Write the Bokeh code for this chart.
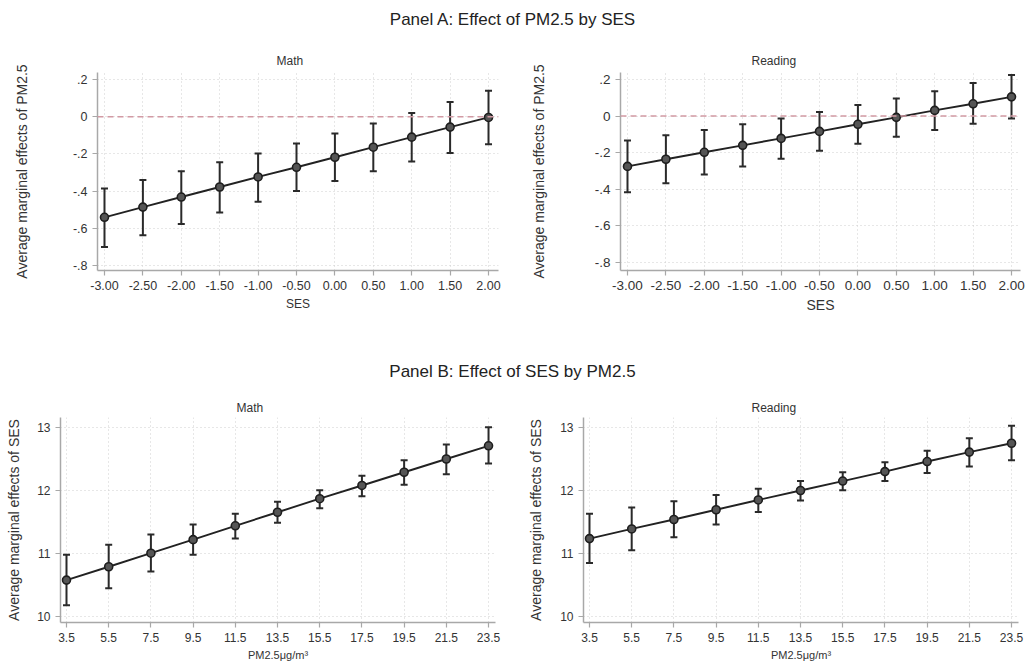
from bokeh.plotting import figure
from bokeh.models import Range1d, FixedTicker, Span, Div, ColumnDataSource
from bokeh.layouts import row, column
from bokeh.embed import file_html
from bokeh.resources import INLINE

# ---------------- data ----------------
ses = [-3.0, -2.5, -2.0, -1.5, -1.0, -0.5, 0.0, 0.5, 1.0, 1.5, 2.0]
ses_tick_labels = ["-3.00", "-2.50", "-2.00", "-1.50", "-1.00", "-0.50", "0.00", "0.50", "1.00", "1.50", "2.00"]
a_yticks = [0.2, 0.0, -0.2, -0.4, -0.6, -0.8]
a_ytick_labels = [".2", "0", "-.2", "-.4", "-.6", "-.8"]

math_a = [-0.541, -0.486, -0.432, -0.378, -0.324, -0.272, -0.218, -0.164, -0.110, -0.056, -0.004]
math_a_lo = [-0.701, -0.638, -0.577, -0.515, -0.458, -0.400, -0.346, -0.294, -0.241, -0.195, -0.148]
math_a_hi = [-0.386, -0.341, -0.294, -0.245, -0.198, -0.144, -0.090, -0.036, 0.020, 0.079, 0.139]

read_a = [-0.275, -0.236, -0.198, -0.160, -0.122, -0.084, -0.045, -0.007, 0.031, 0.067, 0.105]
read_a_lo = [-0.416, -0.367, -0.320, -0.276, -0.233, -0.189, -0.151, -0.113, -0.076, -0.042, -0.013]
read_a_hi = [-0.133, -0.105, -0.076, -0.045, -0.013, 0.022, 0.060, 0.096, 0.136, 0.180, 0.224]

pm = [3.5, 5.5, 7.5, 9.5, 11.5, 13.5, 15.5, 17.5, 19.5, 21.5, 23.5]
pm_tick_labels = ["3.5", "5.5", "7.5", "9.5", "11.5", "13.5", "15.5", "17.5", "19.5", "21.5", "23.5"]
b_yticks = [10, 11, 12, 13]
b_ytick_labels = ["10", "11", "12", "13"]

math_b = [10.578, 10.79, 11.005, 11.22, 11.44, 11.655, 11.87, 12.08, 12.29, 12.50, 12.71]
math_b_lo = [10.18, 10.45, 10.715, 10.98, 11.24, 11.49, 11.72, 11.91, 12.09, 12.26, 12.43]
math_b_hi = [10.98, 11.14, 11.30, 11.46, 11.63, 11.82, 12.005, 12.235, 12.48, 12.73, 13.005]

read_b = [11.237, 11.39, 11.54, 11.695, 11.85, 12.0, 12.15, 12.30, 12.46, 12.61, 12.75]
read_b_lo = [10.85, 11.05, 11.26, 11.46, 11.66, 11.84, 12.005, 12.15, 12.28, 12.38, 12.48]
read_b_hi = [11.63, 11.73, 11.83, 11.93, 12.03, 12.15, 12.29, 12.45, 12.63, 12.83, 13.03]

FONT = "Liberation Sans"


def make_panel(title, xs, ys, lo, hi, xticks, xlabels, yticks, ylabels,
               xr, yr, width, height, bl, br, bt, bb, xlab, ylab,
               title_offset, tick_fs, xlab_fs, ylab_fs, ylab_standoff,
               title_standoff, zero_line=False):
    p = figure(width=width, height=height, output_backend="svg",
               toolbar_location=None, x_range=Range1d(*xr), y_range=Range1d(*yr),
               min_border_left=bl, min_border_right=br,
               min_border_top=bt, min_border_bottom=bb)
    p.outline_line_color = None
    p.background_fill_color = "white"
    p.border_fill_color = "white"

    p.title.text = title
    p.title.align = "left"
    p.title.offset = title_offset
    p.title.standoff = title_standoff
    p.title.text_font = FONT
    p.title.text_font_size = "12px"
    p.title.text_font_style = "normal"
    p.title.text_color = "#333333"

    for ax in (p.xaxis[0], p.yaxis[0]):
        ax.axis_line_color = "#a8a8a8"
        ax.axis_line_width = 1.5
        ax.major_tick_line_color = "#a8a8a8"
        ax.major_tick_line_width = 1.2
        ax.major_tick_out = 5
        ax.major_tick_in = 0
        ax.minor_tick_line_color = None
        ax.major_label_text_font = FONT
        ax.major_label_text_font_size = tick_fs
        ax.major_label_text_color = "#333333"
        ax.axis_label_text_font = FONT
        ax.axis_label_text_font_style = "normal"
        ax.axis_label_text_color = "#333333"
        ax.major_label_standoff = 5

    p.xaxis.ticker = FixedTicker(ticks=xticks)
    p.xaxis.major_label_overrides = {x: s for x, s in zip(xticks, xlabels)}
    p.xaxis.axis_label = xlab
    p.xaxis.axis_label_text_font_size = xlab_fs
    p.xaxis.axis_label_standoff = 4

    p.yaxis.ticker = FixedTicker(ticks=yticks)
    p.yaxis.major_label_overrides = {y: s for y, s in zip(yticks, ylabels)}
    p.yaxis.axis_label = ylab
    p.yaxis.axis_label_text_font_size = ylab_fs
    p.yaxis.axis_label_standoff = ylab_standoff
    p.yaxis.major_label_orientation = "horizontal"

    for g in (p.xgrid[0], p.ygrid[0]):
        g.grid_line_color = "#cfcfcf"
        g.grid_line_dash = "1 3"
        g.grid_line_width = 1

    if zero_line:
        p.add_layout(Span(location=0, dimension="width", line_color="#d29aa4",
                          line_dash="6 4", line_width=1.5))

    src = ColumnDataSource(dict(x=xs, y=ys, lo=lo, hi=hi))
    p.segment(x0="x", y0="lo", x1="x", y1="hi", source=src,
              line_color="#2a2a2a", line_width=2)
    p.scatter(x="x", y="lo", source=src, marker="dash", size=7,
              line_color="#2a2a2a", line_width=2)
    p.scatter(x="x", y="hi", source=src, marker="dash", size=7,
              line_color="#2a2a2a", line_width=2)
    p.line(x="x", y="y", source=src, line_color="#222222", line_width=1.9)
    p.scatter(x="x", y="y", source=src, marker="circle", size=8,
              fill_color="#555555", line_color="#1e1e1e", line_width=1.6)
    return p


pa1 = make_panel("Math", ses, math_a, math_a_lo, math_a_hi, ses, ses_tick_labels,
                 a_yticks, a_ytick_labels, (-3.091, 2.130), (-0.827, 0.2376),
                 520, 312, 97, 22, 32, 82, "SES", "Average marginal effects of PM2.5",
                 179, "12.5px", "12px", "14px", 40, 10, zero_line=True)
pa2 = make_panel("Reading", ses, read_a, read_a_lo, read_a_hi, ses, ses_tick_labels,
                 a_yticks, a_ytick_labels, (-3.091, 2.117), (-0.844, 0.238),
                 505, 312, 100, 5, 32, 82, "SES", "Average marginal effects of PM2.5",
                 131, "13.5px", "14px", "14px", 45, 10, zero_line=True)
pb1 = make_panel("Math", pm, math_b, math_b_lo, math_b_hi, pm, pm_tick_labels,
                 b_yticks, b_ytick_labels, (3.216, 23.83), (9.905, 13.159),
                 520, 273, 60, 25, 25, 43, "PM2.5μg/m³", "Average marginal effects of SES",
                 176, "12px", "11px", "14px", 12, 5)
pb2 = make_panel("Reading", pm, read_b, read_b_lo, read_b_hi, pm, pm_tick_labels,
                 b_yticks, b_ytick_labels, (3.216, 23.83), (9.905, 13.159),
                 505, 273, 63, 7, 25, 43, "PM2.5μg/m³", "Average marginal effects of SES",
                 168, "12px", "11px", "14px", 13, 5)


def header(txt):
    return Div(text=f'<div style="font-family:\'{FONT}\';font-size:17px;color:#222;'
                    f'text-align:center;line-height:40px;width:1025px">{txt}</div>',
               width=1025, height=40, margin=(0, 0, 0, 0))


layout = column(header("Panel A: Effect of PM2.5 by SES"),
                row(pa1, pa2, spacing=0),
                header("Panel B: Effect of SES by PM2.5"),
                row(pb1, pb2, spacing=0), spacing=0)

open("out.html", "w").write(file_html(layout, INLINE))
